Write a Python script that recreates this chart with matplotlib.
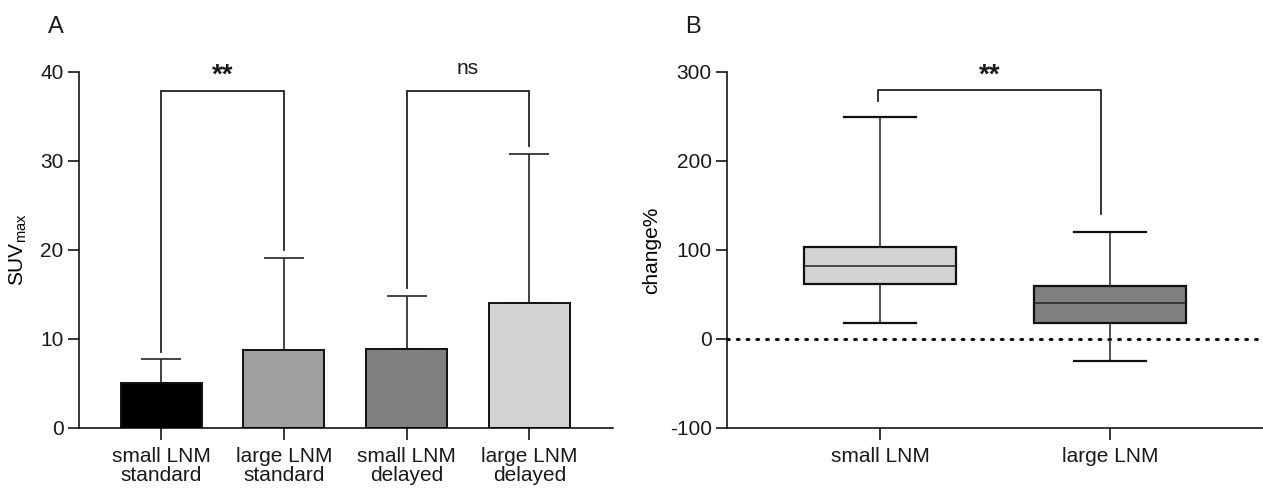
import matplotlib
matplotlib.use("Agg")
import matplotlib.pyplot as plt
import numpy as np

plt.rcParams.update({
    "font.family": ["Liberation Sans", "DejaVu Sans"],
    "font.size": 15,
    "axes.linewidth": 1.1,
    "axes.unicode_minus": False,
    "xtick.major.width": 1.1,
    "ytick.major.width": 1.1,
    "text.color": "#1a1a1a",
    "xtick.labelcolor": "#1a1a1a",
    "ytick.labelcolor": "#1a1a1a",
})

# panel A: mean SUVmax with upper SD
bar_labels = ["small LNM\nstandard", "large LNM\nstandard",
              "small LNM\ndelayed", "large LNM\ndelayed"]
bar_means = [5.1, 8.8, 8.9, 14.0]
bar_upper = [7.7, 19.1, 14.8, 30.8]
bar_colors = ["#000000", "#a0a0a0", "#808080", "#d3d3d3"]

# significance brackets for panel A: (left idx, right idx, height, left end, right end, text)
brackets_a = [
    (0, 1, 37.9, 8.5, 20.0, "**"),
    (2, 3, 37.9, 15.7, 31.7, "ns"),
]

# panel B: change% box plots
box_labels = ["small LNM", "large LNM"]
box_whislo = [17.6, -24.7]
box_q1 = [61.6, 18.4]
box_med = [82.0, 40.0]
box_q3 = [103.7, 59.5]
box_whishi = [249.0, 120.0]
box_colors = ["#d3d3d3", "#808080"]

bracket_b = (-0.01, 0.96, 280.0, 267.0, 140.0, "**")

fig = plt.figure(figsize=(12.63, 4.88), dpi=100)
ax1 = fig.add_axes([0.0625, 0.123, 0.4228, 0.7295])
ax2 = fig.add_axes([0.5756, 0.123, 0.4244, 0.7295])

# ---- panel A
x = np.arange(len(bar_means))
err = np.array(bar_upper) - np.array(bar_means)
ax1.errorbar(x, bar_means, yerr=[np.zeros_like(err), err], fmt="none",
             ecolor="#222222", elinewidth=1.2, capsize=14.5, capthick=1.2,
             zorder=1)
ax1.bar(x, bar_means, width=0.66, color=bar_colors, edgecolor="#111111",
        linewidth=1.4, zorder=2)
ax1.set_xlim(-0.67, 3.68)
ax1.set_ylim(0, 40)
ax1.set_yticks([0, 10, 20, 30, 40])
ax1.set_xticks(x)
ax1.set_xticklabels(bar_labels, linespacing=1.0)
ax1.tick_params(axis="x", length=8.5, pad=5)
ax1.tick_params(axis="y", length=8, pad=3)
ax1.set_ylabel("SUV$_{\\mathregular{max}}$", fontsize=15, labelpad=8)
for s in ("top", "right"):
    ax1.spines[s].set_visible(False)

for li, ri, h, lend, rend, txt in brackets_a:
    ax1.plot([li, li, ri, ri], [lend, h, h, rend], color="#222222",
             lw=1.3, clip_on=False, solid_joinstyle="miter")
    if txt == "**":
        ax1.text((li + ri) / 2, 38.1, txt, ha="center", va="bottom",
                 fontsize=20, fontweight="bold", clip_on=False)
    else:
        ax1.text((li + ri) / 2, 39.3, txt, ha="center", va="bottom",
                 fontsize=15, clip_on=False)

fig.text(48 / 1263, 1 - 33 / 488, "A", fontsize=17)

# ---- panel B
stats = []
for i in range(len(box_labels)):
    stats.append({"whislo": box_whislo[i], "q1": box_q1[i], "med": box_med[i],
                  "q3": box_q3[i], "whishi": box_whishi[i], "fliers": [],
                  "label": box_labels[i]})
bp = ax2.bxp(stats, positions=[0, 1], widths=0.66, capwidths=0.31,
             showfliers=False, patch_artist=True,
             boxprops={"linewidth": 1.6, "edgecolor": "#111111"},
             medianprops={"color": "#222222", "linewidth": 1.1},
             whiskerprops={"color": "#222222", "linewidth": 1.1},
             capprops={"color": "#111111", "linewidth": 1.6})
for patch, c in zip(bp["boxes"], box_colors):
    patch.set_facecolor(c)
ax2.axhline(0, color="#111111", lw=2.2, ls=(0, (0.6, 2.6)), zorder=0.5,
            dash_capstyle="round")
ax2.set_xlim(-0.665, 1.665)
ax2.set_ylim(-100, 300)
ax2.set_yticks([-100, 0, 100, 200, 300])
ax2.tick_params(axis="x", length=8.5, pad=5)
ax2.tick_params(axis="y", length=8, pad=3)
ax2.set_ylabel("change%", fontsize=15, labelpad=6)
for s in ("top", "right"):
    ax2.spines[s].set_visible(False)

bl, br, bh, blend, brend, btxt = bracket_b
ax2.plot([bl, bl, br, br], [blend, bh, bh, brend], color="#222222",
         lw=1.3, clip_on=False)
ax2.text((bl + br) / 2, 281, btxt, ha="center", va="bottom", fontsize=20,
         fontweight="bold", clip_on=False)

fig.text(685 / 1263, 1 - 33 / 488, "B", fontsize=17)

fig.savefig("out.png", dpi=100)
